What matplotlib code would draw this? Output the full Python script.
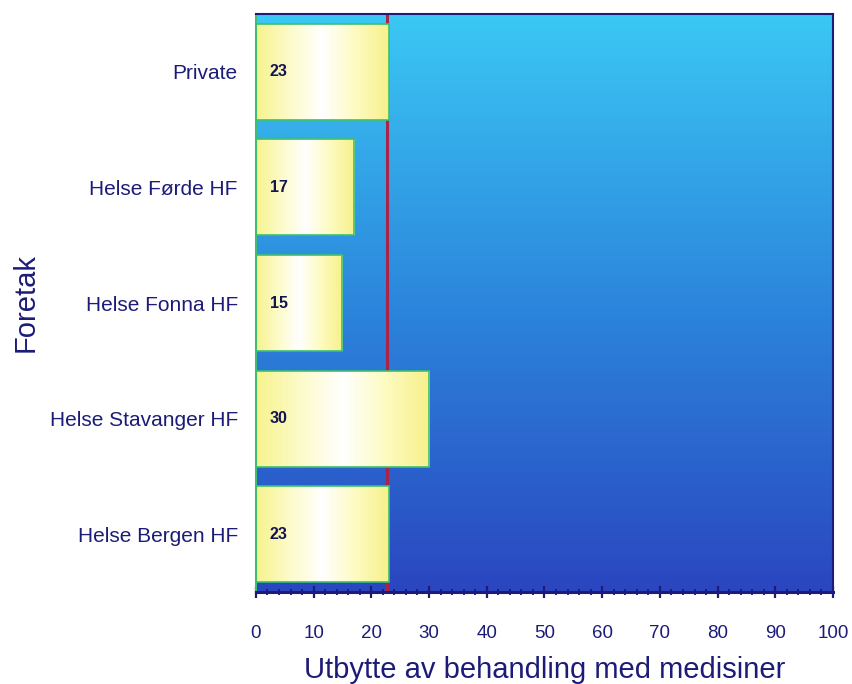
import numpy as np
import matplotlib.pyplot as plt
from matplotlib.colors import LinearSegmentedColormap
from matplotlib.ticker import MultipleLocator

# data (bottom to top)
categories = ["Helse Bergen HF", "Helse Stavanger HF", "Helse Fonna HF", "Helse Førde HF", "Private"]
values = [23, 30, 15, 17, 23]
mean_line = 22.8
x_ticks = [0, 10, 20, 30, 40, 50, 60, 70, 80, 90, 100]

NAVY = "#1c1c78"
plt.rcParams["font.family"] = ["Liberation Sans Narrow", "Liberation Sans", "DejaVu Sans"]

fig = plt.figure(figsize=(8.53, 6.84), dpi=100)
ax = fig.add_axes([0.300, 0.1345, 0.6766, 0.845])

ax.set_xlim(0, 100)
ax.set_ylim(-0.5, len(categories) - 0.5)

# background gradient: light cyan at top, dark blue at bottom
bg_cmap = LinearSegmentedColormap.from_list("bg", ["#2a46c0", "#2c86dc", "#3bc8f4"])
grad = np.linspace(0, 1, 256).reshape(-1, 1)
ax.imshow(grad, cmap=bg_cmap, origin="lower", aspect="auto",
          extent=[0, 100, -0.5, len(categories) - 0.5], zorder=0)

# bars with horizontal yellow-white-yellow gradient
bar_cmap = LinearSegmentedColormap.from_list(
    "bar", ["#f7f38e", "#fcfbc8", "#ffffff", "#fdfbc0", "#f7f08a"])
hgrad = np.linspace(0, 1, 256).reshape(1, -1)
bars = ax.barh(range(len(categories)), values, height=0.83, color="none",
               edgecolor="#3cc070", linewidth=1.2, zorder=3)
for b in bars:
    x0, y0 = b.get_x(), b.get_y()
    im = ax.imshow(hgrad, cmap=bar_cmap, aspect="auto",
                   extent=[x0, x0 + b.get_width(), y0, y0 + b.get_height()], zorder=2)
    im.set_clip_path(b)

# mean line
ax.axvline(mean_line, color="#a82448", linewidth=2.2, zorder=1.5)

for i, v in enumerate(values):
    ax.text(2.4, i, str(v), ha="left", va="center", fontsize=11.5,
            fontweight="bold", color="#141450", zorder=4)

ax.set_yticks(range(len(categories)))
ax.set_yticklabels(categories, fontsize=15, color=NAVY)
ax.set_xticks(x_ticks)
ax.set_xticklabels([str(t) for t in x_ticks], fontsize=13.5, color=NAVY)
ax.xaxis.set_minor_locator(MultipleLocator(2))
ax.tick_params(axis="x", which="major", direction="inout", length=9, width=1.6, color=NAVY, pad=19)
ax.tick_params(axis="x", which="minor", direction="inout", length=5, width=1.3, color=NAVY)
ax.tick_params(axis="y", length=0, pad=13)

for side in ["top", "right"]:
    ax.spines[side].set_color(NAVY)
    ax.spines[side].set_linewidth(1.5)
ax.spines["bottom"].set_color(NAVY)
ax.spines["bottom"].set_linewidth(2.2)
ax.spines["left"].set_color("#3cc070")
ax.spines["left"].set_linewidth(1.5)

ax.set_xlabel("Utbytte av behandling med medisiner", fontsize=21, color=NAVY, labelpad=10)
ax.set_ylabel("Foretak", fontsize=21, color=NAVY)
ax.yaxis.set_label_coords(-0.375, 0.5)

fig.savefig("out.png", dpi=100, facecolor="white")
